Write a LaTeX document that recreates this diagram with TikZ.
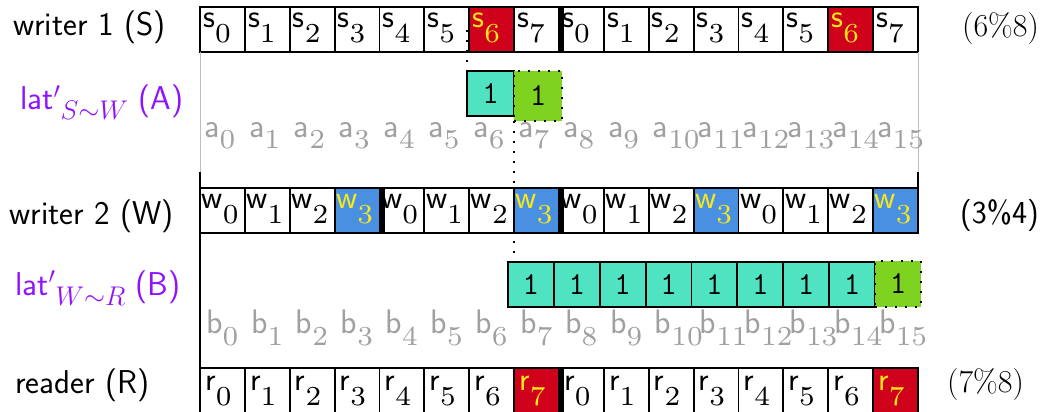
\RequirePackage{fix-cm}
\documentclass[tikz,border=0pt]{standalone}
\usepackage{fontspec}
\newfontfamily\subdig{lmroman7-regular.otf}
\usetikzlibrary{calc}
\definecolor{cred}{HTML}{D0021B}
\definecolor{cyel}{HTML}{F8E71C}
\definecolor{cblue}{HTML}{4A90E2}
\definecolor{cteal}{HTML}{50E3C2}
\definecolor{cgreen}{HTML}{7ED321}
\definecolor{cpurple}{HTML}{9013FE}
\definecolor{cgray}{HTML}{A0A0A0}
\definecolor{cframe}{HTML}{BDBDBD}
% cell text: letter, lowered subscript digit
\newcommand\cs[3][15pt]{{\fontsize{33}{38}\selectfont\sffamily #2}\raisebox{-#1}{\fontsize{27.5}{32}\selectfont\subdig #3}}
% index label text
\newcommand\il[3][11pt]{{\fontsize{34}{40}\selectfont\sffamily #2}\raisebox{-#1}{\fontsize{27.5}{32}\selectfont\subdig #3}}
\newcommand\latsub[1]{\raisebox{-10pt}{\fontsize{27}{32}\selectfont$#1$}}
\begin{document}
\begin{tikzpicture}[x=1pt,y=-1pt,
  cell/.style={draw=black,line width=1.8pt,minimum width=44.875pt,minimum height=45pt,inner sep=0pt,outer sep=0pt,anchor=north west},
  ctext/.style={anchor=base west,inner sep=0pt},
  lab/.style={anchor=base west,inner sep=0pt,font=\fontsize{33}{40}\selectfont\sffamily},
  rlab/.style={anchor=base west,inner sep=0pt},
  tealbox/.style={draw=black,line width=1.8pt,fill=cteal,minimum height=45pt,inner sep=0pt,outer sep=0pt,anchor=north west,font=\fontsize{32}{36}\selectfont\ttfamily},
  greenbox/.style={draw=black,line width=2pt,dash pattern=on 2pt off 8pt,fill=cgreen,inner sep=0pt,outer sep=0pt,anchor=north west,font=\fontsize{32}{36}\selectfont\ttfamily},
  dotline/.style={line width=2.2pt,dash pattern=on 2.2pt off 7.8pt},
  sepbar/.style={line width=6pt},
  gframe/.style={draw=cframe,line width=1pt},
  bframe/.style={draw=black,line width=2pt}]
\useasboundingbox (0,0) rectangle (1053,412);
% writer 1 row
\foreach \i in {0,...,15}{
  \pgfmathtruncatemacro\k{mod(\i,8)}
  \ifnum\k=6 \def\cf{cred}\def\ct{cyel}\else\def\cf{white}\def\ct{black}\fi
  \node[cell,fill=\cf] (s\i) at (200+\i*44.875,7) {};
  \node[ctext,text=\ct] (ts\i) at ($(s\i.north west)+(3,21)$) {\cs{s}{\k}};
}
% writer 2 row
\foreach \i in {0,...,15}{
  \pgfmathtruncatemacro\k{mod(\i,4)}
  \ifnum\k=3 \def\cf{cblue}\def\ct{cyel}\else\def\cf{white}\def\ct{black}\fi
  \node[cell,fill=\cf] (w\i) at (200+\i*44.875,188) {};
  \node[ctext,text=\ct] (tw\i) at ($(w\i.north west)+(1.5,20)$) {\cs{w}{\k}};
}
% reader row
\foreach \i in {0,...,15}{
  \pgfmathtruncatemacro\k{mod(\i,8)}
  \ifnum\k=7 \def\cf{cred}\def\ct{cyel}\else\def\cf{white}\def\ct{black}\fi
  \node[cell,fill=\cf] (r\i) at (200+\i*44.875,368) {};
  \node[ctext,text=\ct] (tr\i) at ($(r\i.north west)+(5,22)$) {\cs{r}{\k}};
}
% thick separators
\draw[sepbar] ($(s7.north east)+(2,0)$) -- ($(s7.south east)+(2,0)$);
\draw[sepbar] ($(w3.north east)+(2,0)$) -- ($(w3.south east)+(2,0)$);
\draw[sepbar] ($(w7.north east)+(2,0)$) -- ($(w7.south east)+(2,0)$);
\draw[sepbar] ($(r7.north east)+(2,0)$) -- ($(r7.south east)+(2,0)$);
% frames
\coordinate (fl) at (200,172);
\coordinate (fr) at (918,172);
\draw[gframe] (s0.south west) -- (fl);
\draw[bframe] (fl) -- (r0.north west);
\draw[gframe] (s15.south east) -- (fr);
\draw[bframe] (fr) -- (w15.north east);
% gray index labels
\foreach \i in {0,...,15}{
  \node[ctext,text=cgray] (la\i) at (204+\i*44.875,137) {\il{a}{\i}};
  \node[ctext,text=cgray] (lb\i) at (206+\i*44.875,333) {\il[12pt]{b}{\i}};
}
% A boxes
\node[tealbox,minimum width=47pt] (At) at (467,71) {1\hspace{8pt}};
\node[greenbox,minimum width=48pt,minimum height=50pt] (Ag) at (514,71) {1\hspace{14pt}};
% B boxes
\foreach \k in {0,...,7}{
  \node[tealbox,minimum width=45.875pt] (Bt\k) at (508+\k*45.875,262) {1\hspace{8pt}};
}
\node[greenbox,minimum width=46pt,minimum height=46pt] (Bg) at (875,261) {1\hspace{12pt}};
% dotted lines
\coordinate (d1) at (467,30);
\draw[dotline] (d1) -- (At.north west);
\draw[dotline] (Ag.south west) -- (Ag.south west |- Bt0.north);
% left labels
\node[lab] (Lw1) at (13,36) {writer 1 (S)};
\node[lab,text=cpurple] (LA) at (20,110) {lat$'$\latsub{S{\sim}W} (A)};
\node[lab] (Lw2) at (9.5,224) {writer 2 (W)};
\node[lab,text=cpurple] (LB) at (15,295) {lat$'$\latsub{W{\sim}R} (B)};
\node[lab] (Lr) at (15,393) {reader (R)};
% right labels
\node[rlab,font=\fontsize{32}{38}\selectfont\rmfamily] (P1) at (962,37) {(6\%8)};
\node[rlab,font=\fontsize{32}{38}\selectfont\sffamily] (P2) at (960,223) {(3\%4)};
\node[rlab,font=\fontsize{32}{38}\selectfont\rmfamily] (P3) at (947,392) {(7\%8)};
\end{tikzpicture}
\end{document}
